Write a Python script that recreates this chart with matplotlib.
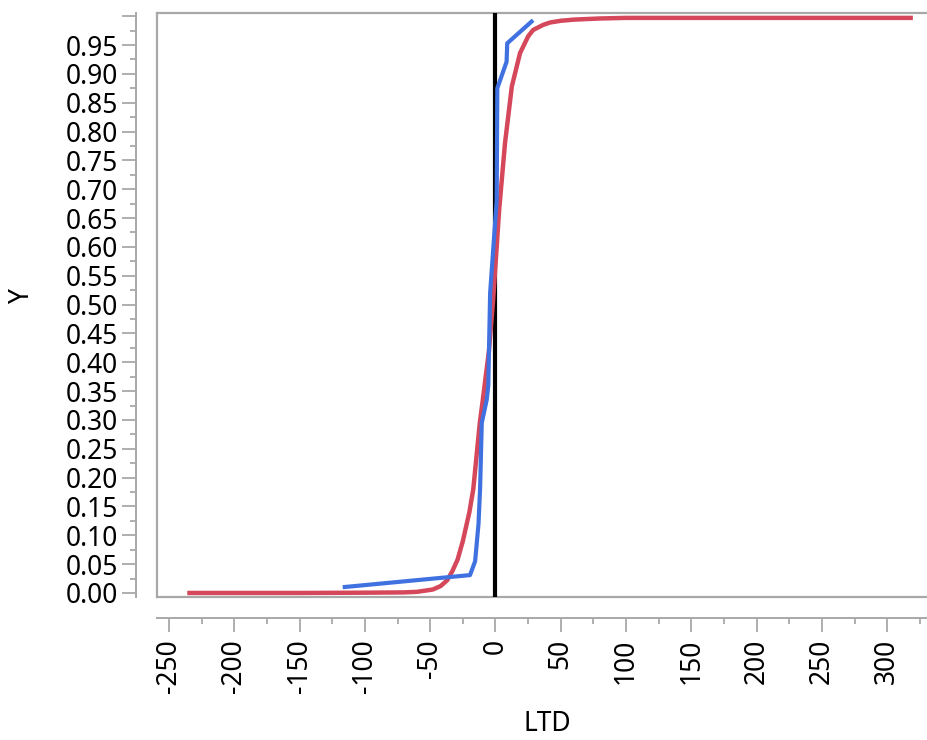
import numpy as np
import matplotlib
matplotlib.use("Agg")
import matplotlib.pyplot as plt
from matplotlib.lines import Line2D
from matplotlib.ticker import MultipleLocator, FixedLocator

plt.rcParams['font.family'] = ['Noto Sans', 'DejaVu Sans']

# fitted curve (red)
red_x = [-236, -150, -100, -70, -60, -48, -42, -37, -33, -29, -25, -20, -17,
         -12, -9.7, -5, -1.8, 2.8, 7.3, 12.5, 18.8, 25, 28.8, 36.6, 41.8,
         50, 60, 80, 100, 150, 319.6]
red_y = [0.0, 0.0, 0.0005, 0.001, 0.002, 0.006, 0.012, 0.022, 0.038, 0.058,
         0.09, 0.14, 0.18, 0.295, 0.335, 0.42, 0.508, 0.664, 0.78, 0.878,
         0.936, 0.965, 0.976, 0.985, 0.989, 0.992, 0.994, 0.996, 0.997,
         0.997, 0.997]

# empirical curve (blue)
blue_x = [-117, -19.5, -15.6, -13.0, -11.8, -10.5, -6.7, -5.5, -4.1, 0.9,
          1.4, 8.5, 9.0, 28.8]
blue_y = [0.010, 0.031, 0.055, 0.12, 0.18, 0.295, 0.335, 0.36, 0.52, 0.68,
          0.875, 0.921, 0.953, 0.993]

ref_x = 0
x_ticks = [-250, -200, -150, -100, -50, 0, 50, 100, 150, 200, 250, 300]
y_ticks = [round(0.05 * i, 2) for i in range(21)]

gray = '#a8a8a8'

fig = plt.figure(figsize=(9.28, 7.40), dpi=100)
ax = fig.add_axes([157 / 928, 1 - 597.3 / 740, 1 - 157 / 928, (597.3 - 12.7) / 740])

ax.axvline(ref_x, color='black', lw=3.0, zorder=2)
ax.plot(red_x, red_y, color='#d5475a', lw=3.2, zorder=3, solid_capstyle='butt')
ax.plot(blue_x, blue_y, color='#3f72e0', lw=3.0, zorder=4, solid_capstyle='butt')

ax.set_xlim(-259.2, 331.2)
ax.set_ylim(-0.0075, 1.006)

# axis lines offset from the frame
for s in ['top', 'right']:
    ax.spines[s].set_visible(False)
for s in ['left', 'bottom']:
    ax.spines[s].set_position(('outward', 15))
    ax.spines[s].set_color(gray)
    ax.spines[s].set_linewidth(1.4)

# frame of the plot area
for xs, ys in [([0, 0], [0, 1]), ([0, 1], [1, 1]), ([0, 1], [0, 0])]:
    ax.add_line(Line2D(xs, ys, transform=ax.transAxes, color=gray,
                       lw=1.6, clip_on=False, zorder=1))

ax.xaxis.set_major_locator(FixedLocator(x_ticks))
ax.xaxis.set_minor_locator(MultipleLocator(25))
ax.yaxis.set_major_locator(FixedLocator(y_ticks))
ax.yaxis.set_minor_locator(MultipleLocator(0.025))

ax.set_xticklabels([str(v) for v in x_ticks], rotation=90)
ax.set_yticklabels(['%.2f' % v if v < 0.99 else '' for v in y_ticks])

ax.tick_params(which='major', length=10, width=1.3, color=gray,
               labelsize=19, labelcolor='black', pad=3)
ax.tick_params(which='minor', length=4.5, width=1.3, color=gray)
ax.tick_params(axis='x', which='major', pad=5)

fig.text(22 / 928, 1 - 297 / 740, 'Y', rotation=90, ha='center', va='center',
         fontsize=19)
fig.text(547 / 928, 1 - 724 / 740, 'LTD', ha='center', va='center', fontsize=19)

fig.savefig('out.png', dpi=100)
